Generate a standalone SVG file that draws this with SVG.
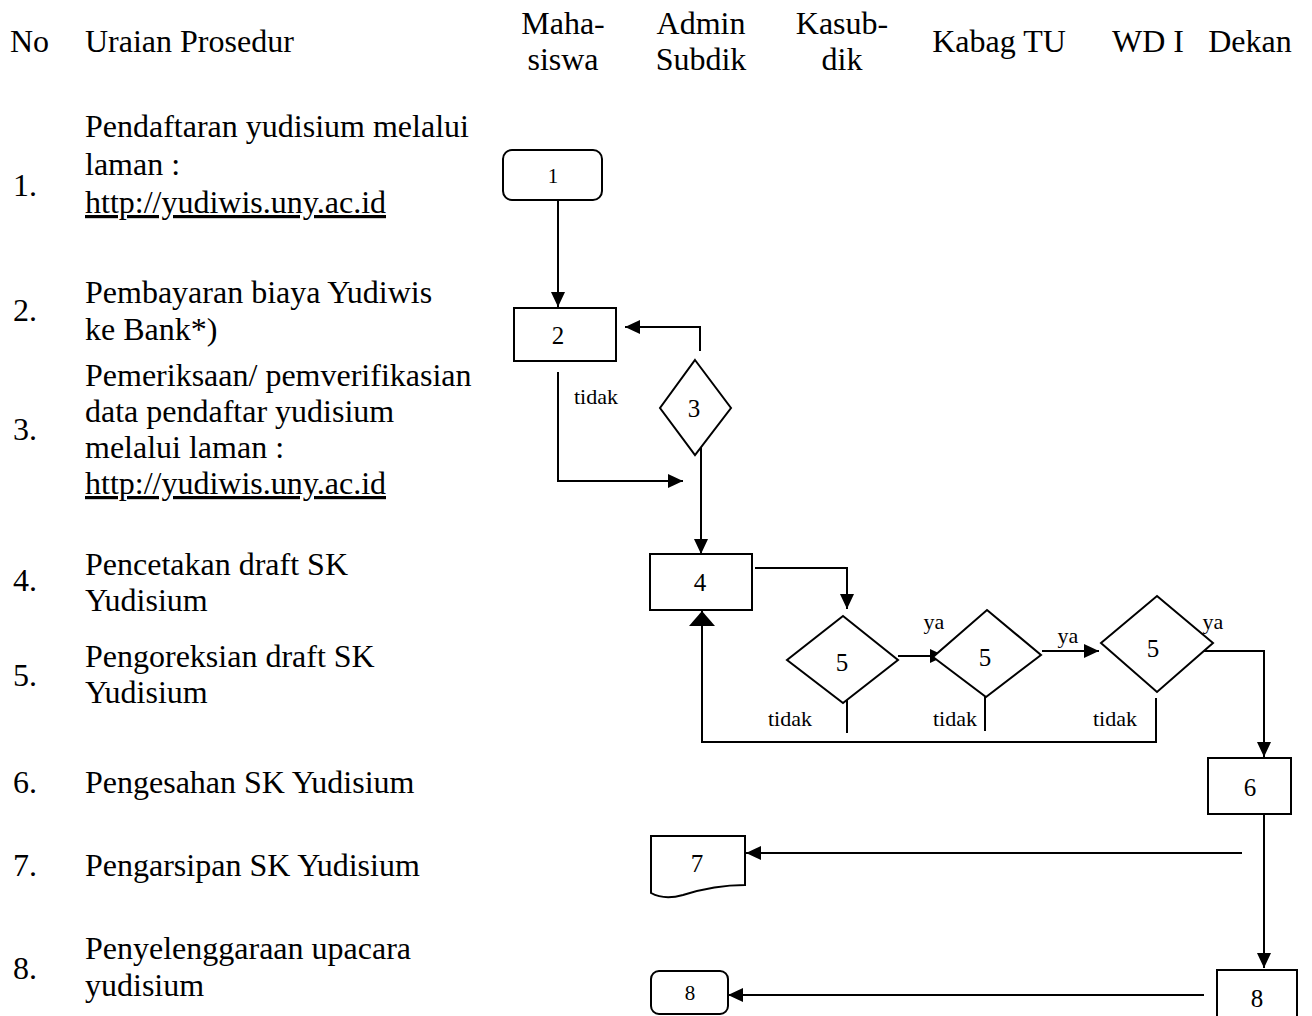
<svg xmlns="http://www.w3.org/2000/svg" width="1312" height="1016" viewBox="0 0 1312 1016">
<defs>
<marker id="ah" markerUnits="userSpaceOnUse" markerWidth="16" markerHeight="14" refX="15" refY="7" orient="auto">
<path d="M0,0 L15,7 L0,14 z" fill="#000"/>
</marker>
<marker id="ahBig" markerUnits="userSpaceOnUse" markerWidth="16" markerHeight="26" refX="15" refY="13" orient="auto">
<path d="M0,0 L15,13 L0,26 z" fill="#000"/>
</marker>
<style>
.t{font-family:"Liberation Serif","Times New Roman",serif;font-size:32px;fill:#000}
.h{text-anchor:middle}
.u{text-decoration:underline}
.shape{fill:#fff;stroke:#000;stroke-width:2}
.lbl{font-family:"Liberation Serif","Times New Roman",serif;font-size:25px;fill:#000;text-anchor:middle}
.sm{font-size:21px}
.nt{font-family:"Liberation Serif","Times New Roman",serif;font-size:22px;fill:#000;text-anchor:middle}
.c{fill:none;stroke:#000;stroke-width:2}
</style>
</defs>
<rect width="1312" height="1016" fill="#fff"/>

<g id="header">
<text class="t" x="10" y="52">No</text>
<text class="t" x="85" y="52">Uraian Prosedur</text>
<text class="t h" x="563" y="34">Maha-</text>
<text class="t h" x="563" y="70">siswa</text>
<text class="t h" x="701" y="34">Admin</text>
<text class="t h" x="701" y="70">Subdik</text>
<text class="t h" x="842" y="34">Kasub-</text>
<text class="t h" x="842" y="70">dik</text>
<text class="t h" x="999" y="52">Kabag TU</text>
<text class="t h" x="1148" y="52">WD I</text>
<text class="t h" x="1250" y="52">Dekan</text>
</g>

<g id="steps">
<text class="t" x="13" y="196">1.</text>
<text class="t" x="85" y="137">Pendaftaran yudisium melalui</text>
<text class="t" x="85" y="175">laman :</text>
<text class="t u" x="85" y="213">http://yudiwis.uny.ac.id</text>

<text class="t" x="13" y="321">2.</text>
<text class="t" x="85" y="303">Pembayaran biaya Yudiwis</text>
<text class="t" x="85" y="340">ke Bank*)</text>

<text class="t" x="13" y="440">3.</text>
<text class="t" x="85" y="386">Pemeriksaan/ pemverifikasian</text>
<text class="t" x="85" y="422">data pendaftar yudisium</text>
<text class="t" x="85" y="458">melalui laman :</text>
<text class="t u" x="85" y="494">http://yudiwis.uny.ac.id</text>

<text class="t" x="13" y="591">4.</text>
<text class="t" x="85" y="575">Pencetakan draft SK</text>
<text class="t" x="85" y="611">Yudisium</text>

<text class="t" x="13" y="686">5.</text>
<text class="t" x="85" y="667">Pengoreksian draft SK</text>
<text class="t" x="85" y="703">Yudisium</text>

<text class="t" x="13" y="793">6.</text>
<text class="t" x="85" y="793">Pengesahan SK Yudisium</text>

<text class="t" x="13" y="876">7.</text>
<text class="t" x="85" y="876">Pengarsipan SK Yudisium</text>

<text class="t" x="13" y="979">8.</text>
<text class="t" x="85" y="959">Penyelenggaraan upacara</text>
<text class="t" x="85" y="996">yudisium</text>
</g>

<g id="connectors">
<path class="c" d="M558,200 V307" marker-end="url(#ah)"/>
<path class="c" d="M700,351 V327 H625" marker-end="url(#ah)"/>
<path class="c" d="M558,372 V481 H683" marker-end="url(#ah)"/>
<path class="c" d="M701,442 V554" marker-end="url(#ah)"/>
<path class="c" d="M755,568 H847 V609" marker-end="url(#ah)"/>
<path class="c" d="M898,656 H945" marker-end="url(#ah)"/>
<path class="c" d="M1042,651 H1099" marker-end="url(#ah)"/>
<path class="c" d="M1203,651 H1264 V757" marker-end="url(#ah)"/>
<path class="c" d="M847,698 V733"/>
<path class="c" d="M985,688 V731"/>
<path class="c" d="M1156,698 V742 H702 V611" marker-end="url(#ahBig)"/>
<path class="c" d="M1264,814 V968" marker-end="url(#ah)"/>
<path class="c" d="M1242,853 H746" marker-end="url(#ah)"/>
<path class="c" d="M1204,995 H728" marker-end="url(#ah)"/>
<text class="nt" x="596" y="404">tidak</text>
<text class="nt" x="934" y="629">ya</text>
<text class="nt" x="1068" y="643">ya</text>
<text class="nt" x="1213" y="629">ya</text>
<text class="nt" x="790" y="726">tidak</text>
<text class="nt" x="955" y="726">tidak</text>
<text class="nt" x="1115" y="726">tidak</text>
</g>

<g id="node1">
<rect class="shape" x="503" y="150" width="99" height="50" rx="9"/>
<text class="lbl sm" x="553" y="183">1</text>
</g>
<g id="node2">
<rect class="shape" x="514" y="308" width="102" height="53"/>
<text class="lbl" x="558" y="344">2</text>
</g>
<g id="node3">
<polygon class="shape" points="695,360 731,408 695,455 660,408"/>
<text class="lbl" x="694" y="417">3</text>
</g>
<g id="node4">
<rect class="shape" x="650" y="554" width="102" height="56"/>
<text class="lbl" x="700" y="591">4</text>
</g>
<g id="node5a">
<polygon class="shape" points="843,616 898,660 843,703 787,660"/>
<text class="lbl" x="842" y="671">5</text>
</g>
<g id="node5b">
<polygon class="shape" points="987,610 1041,655 986,697 933,657"/>
<text class="lbl" x="985" y="666">5</text>
</g>
<g id="node5c">
<polygon class="shape" points="1157,596 1213,643 1157,692 1101,643"/>
<text class="lbl" x="1153" y="657">5</text>
</g>
<g id="node6">
<rect class="shape" x="1208" y="758" width="83" height="56"/>
<text class="lbl" x="1250" y="796">6</text>
</g>
<g id="node7">
<path class="shape" d="M651,836 H745 V885 C722,885 702,889 683,895 C669,899 660,898 651,893 Z"/>
<text class="lbl" x="697" y="872">7</text>
</g>
<g id="node8a">
<rect class="shape" x="651" y="971" width="77" height="43" rx="8"/>
<text class="lbl sm" x="690" y="1000">8</text>
</g>
<g id="node8b">
<rect class="shape" x="1217" y="970" width="80" height="60"/>
<text class="lbl" x="1257" y="1007">8</text>
</g>
</svg>
